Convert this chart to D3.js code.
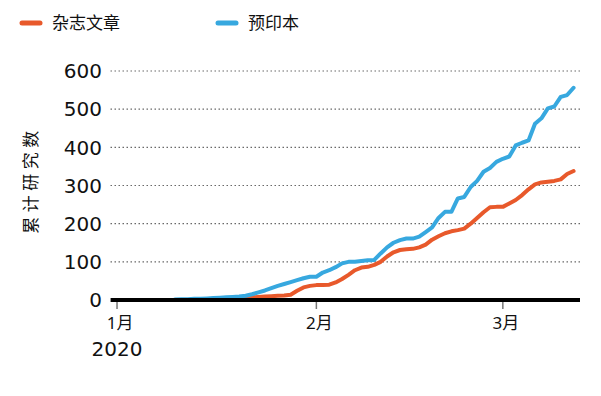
<!DOCTYPE html>
<html>
<head>
<meta charset="utf-8">
<script src="https://cdn.jsdelivr.net/npm/d3@7"></script>
<style>
  body { margin: 0; background: #fff; }
  svg text { font-family: "Noto Sans", "Noto Sans CJK SC", sans-serif; fill: #111; }
  svg text.num { font-family: "DejaVu Sans", sans-serif; }
</style>
</head>
<body>
<svg id="chart" width="601" height="396"></svg>
<script>
// data: cumulative counts per day, starting 2020-01-10
const startDate = new Date(2020, 0, 10);
const seriesNames = ["杂志文章", "预印本"];
const colors = ["#e8592b", "#37a8df"];
const journal = [0, 0, 0, 0, 1, 2, 3, 3, 4, 4, 5, 6, 7, 8, 9, 10, 11, 12, 14, 24,
  33, 37, 39, 39, 40, 46, 55, 66, 78, 85, 87, 92, 100, 114, 125, 131, 133, 134, 138, 145,
  158, 167, 175, 180, 183, 187, 200, 215, 230, 243, 244, 244, 253, 262, 275, 290, 303, 308, 310, 312,
  316, 330, 338];
const preprint = [1, 2, 2, 3, 3, 4, 5, 6, 7, 8, 9, 11, 15, 20, 25, 31, 37, 42, 47, 52,
  57, 61, 61, 72, 78, 86, 96, 100, 100, 102, 104, 105, 122, 138, 150, 157, 161, 161, 166, 178,
  190, 215, 231, 231, 266, 270, 296, 312, 336, 346, 362, 370, 376, 405, 412, 418, 462, 476, 502, 507,
  532, 537, 556];
const yTicks = [0, 100, 200, 300, 400, 500, 600];
const monthTicks = [new Date(2020, 0, 1), new Date(2020, 1, 1), new Date(2020, 2, 1)];
const monthLabels = ["1月", "2月", "3月"];

const svg = d3.select("#chart");

const x = d3.scaleTime()
  .domain([new Date(2019, 11, 31), new Date(2020, 2, 13)])
  .range([110.6, 580]);
const y = d3.scaleLinear().domain([0, 600]).range([300, 71]);

const dates = journal.map((_, i) => d3.timeDay.offset(startDate, i));

// dotted gridlines
svg.append("g").selectAll("line")
  .data(yTicks.filter(d => d > 0))
  .join("line")
  .attr("x1", x.range()[0]).attr("x2", x.range()[1])
  .attr("y1", d => y(d)).attr("y2", d => y(d))
  .attr("stroke", "#444").attr("stroke-width", 1.2)
  .attr("stroke-dasharray", "1.2,2.8");

// y labels
svg.append("g").selectAll("text")
  .data(yTicks)
  .join("text")
  .attr("class", "num")
  .attr("x", 102).attr("y", d => y(d))
  .attr("dy", "0.36em")
  .attr("text-anchor", "end")
  .attr("font-size", 20)
  .text(d => d);

svg.append("text")
  .attr("transform", "translate(31,180) rotate(-90)")
  .attr("text-anchor", "middle")
  .attr("dy", "0.35em")
  .attr("font-size", 17)
  .attr("letter-spacing", 4.5)
  .text("累计研究数");

// x ticks
const xt = svg.append("g");
xt.selectAll("line")
  .data(monthTicks)
  .join("line")
  .attr("x1", d => x(d)).attr("x2", d => x(d))
  .attr("y1", 300).attr("y2", 309)
  .attr("stroke", "#777").attr("stroke-width", 1.5);
xt.selectAll("text")
  .data(monthTicks)
  .join("text")
  .attr("x", d => x(d) + 3).attr("y", 329)
  .attr("text-anchor", "middle")
  .attr("font-size", 17)
  .text((d, i) => monthLabels[i]);
svg.append("text")
  .attr("class", "num")
  .attr("x", x(monthTicks[0])).attr("y", 356)
  .attr("text-anchor", "middle")
  .attr("font-size", 20)
  .text("2020");

// lines
const line = d3.line()
  .x((d, i) => x(dates[i]))
  .y(d => y(d));

[journal, preprint].forEach((s, i) => {
  svg.append("path")
    .datum(s)
    .attr("d", line)
    .attr("fill", "none")
    .attr("stroke", colors[i])
    .attr("stroke-width", 4)
    .attr("stroke-linejoin", "round")
    .attr("stroke-linecap", "round");
});

// baseline
svg.append("line")
  .attr("x1", x.range()[0]).attr("x2", x.range()[1])
  .attr("y1", y(0)).attr("y2", y(0))
  .attr("stroke", "#000").attr("stroke-width", 4);

// legend
const legendX = [22, 218];
const lg = svg.append("g").selectAll("g")
  .data(seriesNames)
  .join("g")
  .attr("transform", (d, i) => `translate(${legendX[i]},23)`);
lg.append("line")
  .attr("x1", 0).attr("x2", 18)
  .attr("stroke", (d, i) => colors[i])
  .attr("stroke-width", 5)
  .attr("stroke-linecap", "round");
lg.append("text")
  .attr("x", 30).attr("dy", "0.35em")
  .attr("font-size", 17)
  .text(d => d);
</script>
</body>
</html>
